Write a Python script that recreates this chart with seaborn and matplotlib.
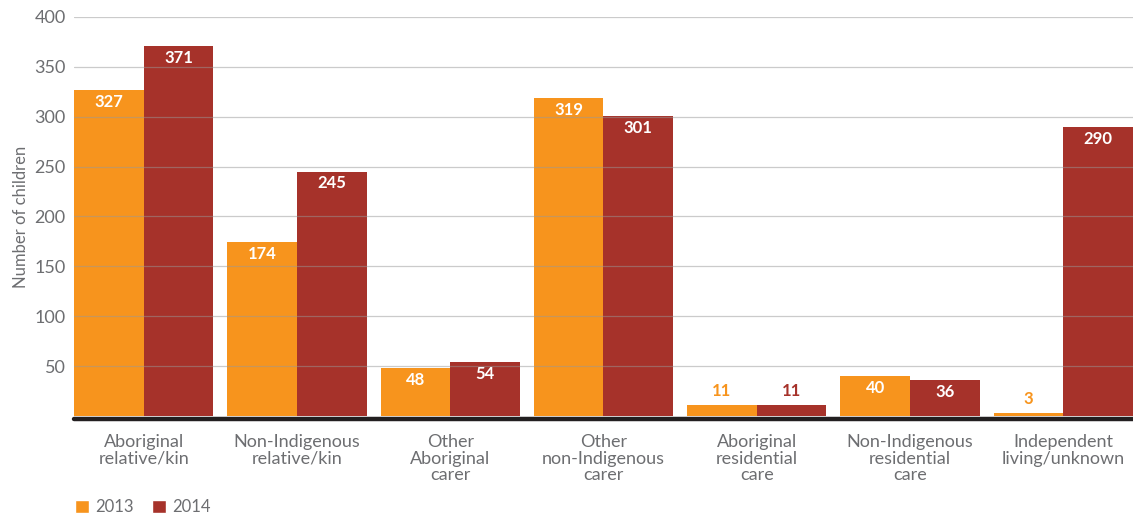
import matplotlib
matplotlib.use("Agg")
import matplotlib.pyplot as plt
import seaborn as sns
import pandas as pd
from matplotlib.patches import Patch

categories = ["Aboriginal\nrelative/kin", "Non-Indigenous\nrelative/kin", "Other\nAboriginal\ncarer",
              "Other\nnon-Indigenous\ncarer", "Aboriginal\nresidential\ncare",
              "Non-Indigenous\nresidential\ncare", "Independent\nliving/unknown"]
years = ["2013", "2014"]
values_2013 = [327, 174, 48, 319, 11, 40, 3]
values_2014 = [371, 245, 54, 301, 11, 36, 290]

colors = {"2013": "#F7941D", "2014": "#A6322A"}

df = pd.DataFrame({
    "category": categories * 2,
    "year": ["2013"] * len(categories) + ["2014"] * len(categories),
    "count": values_2013 + values_2014,
})

sns.set_style("white")
plt.rcParams['font.family'] = ['Lato', 'DejaVu Sans']

fig = plt.figure(figsize=(11.33, 5.19), dpi=100)
ax = fig.add_axes([0.0653, 0.1985, 0.9347, 0.769])

sns.barplot(data=df, x="category", y="count", hue="year", order=categories, hue_order=years,
            palette=colors, width=0.91, gap=0, saturation=1, ax=ax, legend=False, linewidth=0)

ax.set_ylim(0, 400)
ax.set_xlim(-0.455, 6.455)
ax.set_yticks([50, 100, 150, 200, 250, 300, 350, 400])
ax.yaxis.grid(True, color="#999999", linewidth=0.9, alpha=0.5, zorder=5)
ax.set_axisbelow(False)
for s in ax.spines.values():
    s.set_visible(False)
# dark baseline just under the bars
ax.axhline(-2.6, color="#231f20", linewidth=3.2, clip_on=False, zorder=6)

ax.tick_params(axis="both", length=0, colors="#6d6e71", labelsize=13)
ax.tick_params(axis="x", pad=13)
ax.tick_params(axis="y", pad=6)
for lbl in ax.get_xticklabels():
    lbl.set_linespacing(1.05)
ax.set_xlabel("")
ax.set_ylabel("Number of children", color="#6d6e71", fontsize=12, labelpad=4)

for cont, yr in zip(ax.containers, years):
    for bar, v in zip(cont, df[df.year == yr]["count"]):
        cx = bar.get_x() + bar.get_width() / 2
        if v >= 30:
            ax.text(cx, v - 12, str(v), ha="center", va="center", color="white",
                    fontsize=12, fontweight="bold", zorder=7)
        else:
            ax.text(cx, v + 14, str(v), ha="center", va="center", color=colors[yr],
                    fontsize=12, fontweight="bold", zorder=7)

handles = [Patch(facecolor=colors[y], label=y) for y in years]
fig.legend(handles=handles, loc="lower left", bbox_to_anchor=(0.053, -0.022), ncol=2, frameon=False,
           handlelength=0.85, handleheight=0.85, handletextpad=0.35, columnspacing=1.1,
           fontsize=12, labelcolor="#6d6e71")

fig.savefig("out.png", dpi=100)
